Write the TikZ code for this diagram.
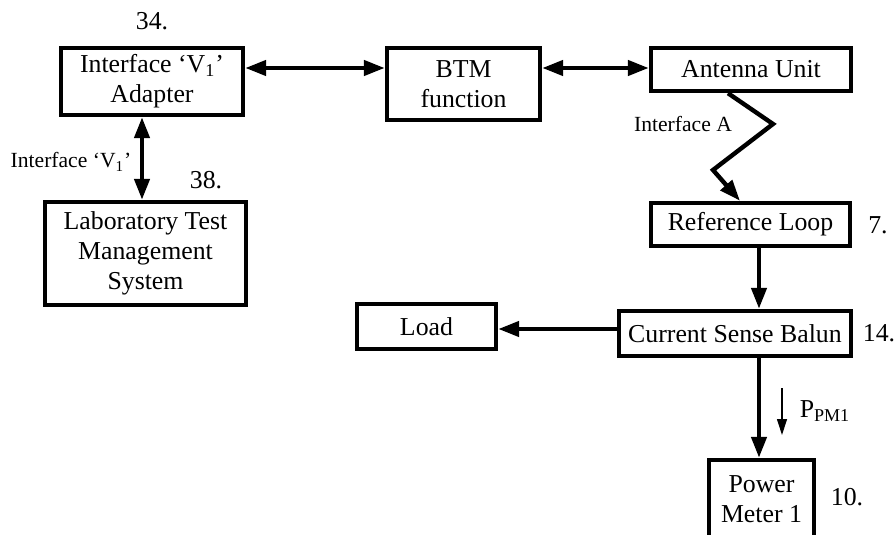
\documentclass[tikz,border=0pt]{standalone}
\usepackage{fontspec}
\setmainfont{Liberation Serif}
\usetikzlibrary{
  arrows.meta,
  positioning,
  calc,
}
\tikzset{
  meta box/.style={
    draw,
    black,
    line width=2.2pt,
    text centered
  },
  blok/.style={
    meta box,
    rectangle,
    inner sep=2pt,
    align=center,
    font=\fontsize{12.9}{15}\selectfont
  },
  num/.style={
    font=\fontsize{12.9}{15}\selectfont
  },
  small/.style={
    font=\fontsize{10.8}{13}\selectfont
  },
  flow/.style={
    line width=2.2pt,
    -{Triangle[length=10.5pt,width=7.5pt]}
  },
  both/.style={
    line width=2.2pt,
    {Triangle[length=10.5pt,width=7.5pt]}-{Triangle[length=10.5pt,width=7.5pt]}
  }
}

\begin{document}
\begin{tikzpicture}[x=0.5pt, y=-0.5pt]
  \useasboundingbox (0,0) rectangle (895,535);
  \clip (0,0) rectangle (895,535);

  \node[blok, minimum width=91pt, minimum height=33.5pt] (adapter) at (152,81.5) {Interface ‘V\textsubscript{1}’\\Adapter};
  \node[blok, minimum width=76.5pt, minimum height=36pt] (btm) at (463.5,84) {BTM\\function};
  \node[blok, minimum width=100pt, minimum height=21.5pt] (antenna) at (751,69.5) {Antenna Unit};
  \node[blok, minimum width=99.5pt, minimum height=21.5pt] (refloop) at (750.5,224.5) {Reference Loop};
  \node[blok, minimum width=100.5pt, minimum height=51.5pt] (ltms) at (145.5,253.5) {Laboratory Test\\Management\\System};
  \node[blok, minimum width=69.5pt, minimum height=22.5pt] (load) at (426.5,326.5) {Load};
  \node[blok, minimum width=116pt, minimum height=22.5pt] (balun) at (735,333.5) {Current Sense Balun};
  \node[blok, minimum width=52.5pt, minimum height=39pt] (meter) at (761.5,499) {Power\\Meter 1};

  %% numbers
  \node[num] (n34) at (152,21) {34.};
  \node[num] (n38) at (206,180) {38.};
  \node[num] (n7) at (878,225) {7.};
  \node[num] (n14) at (879,333) {14.};
  \node[num] (n10) at (847,497) {10.};

  %% interfaces
  \node[small] (ifv) at (71,162) {Interface ‘V\textsubscript{1}’};
  \node[small] (ifa) at (683,124) {Interface A};
  \node[num] (ppm) at (825,411) {P\textsubscript{PM1}};

  \draw[both] (adapter.east |- 0,68) -- (btm.west |- 0,68);
  \draw[both] (btm.east |- 0,68) -- (antenna.west |- 0,68);
  \draw[both] (142,0 |- adapter.south) -- (142,0 |- ltms.north);
  \draw[flow, line join=miter] (728,0 |- antenna.south) -- (773,124) -- (713,170) -- (740,0 |- refloop.north);
  \draw[flow] (759,0 |- refloop.south) -- (759,0 |- balun.north);
  \draw[flow] (balun.west |- 0,329) -- (load.east |- 0,329);
  \draw[flow] (759,0 |- balun.south) -- (759,0 |- meter.north);

  \coordinate (pa) at (782,388);
  \coordinate (pb) at (782,435);
  \draw[line width=0.6pt, -{Triangle[length=8pt,width=5pt]}] (pa) -- (pb);
\end{tikzpicture}
\end{document}
